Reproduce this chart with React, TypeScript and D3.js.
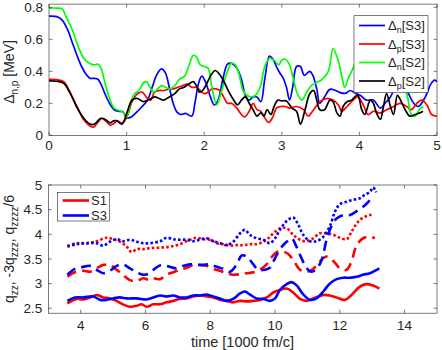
import React from 'react';
import * as d3 from 'd3';

// top panel: pairing gaps [MeV] vs time [1000 fm/c]
const dnS3 = [[0,0.745],[0.1,0.742],[0.17,0.72],[0.24,0.66],[0.3,0.58],[0.36,0.5],[0.42,0.43],[0.48,0.38],[0.53,0.356],[0.58,0.356],[0.63,0.35],[0.67,0.32],[0.72,0.26],[0.78,0.2],[0.84,0.16],[0.9,0.15],[0.95,0.148],[1.0,0.11],[1.05,0.112],[1.12,0.14],[1.2,0.18],[1.27,0.22],[1.33,0.3],[1.39,0.38],[1.45,0.415],[1.5,0.39],[1.55,0.3],[1.6,0.2],[1.65,0.145],[1.7,0.13],[1.76,0.137],[1.84,0.12],[1.88,0.2],[1.93,0.33],[1.97,0.37],[2.02,0.33],[2.08,0.24],[2.13,0.19],[2.18,0.22],[2.24,0.35],[2.3,0.445],[2.35,0.45],[2.42,0.42],[2.48,0.35],[2.53,0.25],[2.58,0.22],[2.63,0.24],[2.68,0.24],[2.73,0.21],[2.78,0.35],[2.84,0.495],[2.88,0.48],[2.94,0.42],[2.98,0.385],[3.02,0.355],[3.06,0.3],[3.1,0.22],[3.14,0.3],[3.19,0.43],[3.24,0.43],[3.29,0.375],[3.36,0.4],[3.4,0.375],[3.45,0.29],[3.49,0.2],[3.55,0.24],[3.62,0.287],[3.68,0.283],[3.75,0.267],[3.82,0.262],[3.88,0.28],[3.95,0.262],[4.01,0.25],[4.09,0.22],[4.18,0.22],[4.27,0.17],[4.33,0.2],[4.4,0.24],[4.47,0.3],[4.55,0.31],[4.62,0.27],[4.7,0.2],[4.76,0.18],[4.85,0.24],[4.92,0.32],[4.97,0.345],[5.0,0.335]];
const dpS3 = [[0,0.35],[0.1,0.348],[0.19,0.335],[0.27,0.27],[0.36,0.18],[0.45,0.095],[0.53,0.057],[0.58,0.052],[0.62,0.075],[0.68,0.105],[0.73,0.09],[0.79,0.063],[0.84,0.075],[0.88,0.09],[0.94,0.078],[1.0,0.11],[1.07,0.21],[1.14,0.26],[1.2,0.27],[1.27,0.23],[1.31,0.22],[1.36,0.27],[1.42,0.28],[1.48,0.28],[1.55,0.29],[1.6,0.29],[1.66,0.3],[1.72,0.31],[1.78,0.32],[1.84,0.3],[1.9,0.3],[1.95,0.28],[2.0,0.26],[2.05,0.27],[2.1,0.29],[2.15,0.29],[2.2,0.28],[2.25,0.24],[2.3,0.2],[2.35,0.2],[2.42,0.17],[2.48,0.13],[2.52,0.115],[2.58,0.15],[2.63,0.2],[2.68,0.16],[2.73,0.15],[2.78,0.11],[2.83,0.08],[2.88,0.11],[2.93,0.17],[2.98,0.18],[3.04,0.18],[3.1,0.17],[3.19,0.18],[3.28,0.16],[3.34,0.12],[3.41,0.16],[3.49,0.21],[3.58,0.23],[3.66,0.22],[3.73,0.19],[3.77,0.15],[3.84,0.18],[3.92,0.22],[3.98,0.24],[4.05,0.19],[4.11,0.13],[4.18,0.15],[4.27,0.14],[4.35,0.16],[4.44,0.18],[4.52,0.2],[4.61,0.18],[4.67,0.16],[4.74,0.2],[4.8,0.22],[4.87,0.19],[4.93,0.13],[5.0,0.12]];
const dnS2 = [[0,0.795],[0.1,0.795],[0.17,0.79],[0.22,0.74],[0.3,0.66],[0.38,0.55],[0.45,0.48],[0.52,0.45],[0.58,0.44],[0.63,0.445],[0.67,0.42],[0.72,0.33],[0.78,0.23],[0.84,0.17],[0.9,0.155],[0.95,0.145],[1.0,0.115],[1.05,0.2],[1.1,0.26],[1.16,0.28],[1.22,0.33],[1.26,0.335],[1.3,0.3],[1.35,0.27],[1.4,0.29],[1.45,0.31],[1.5,0.3],[1.56,0.29],[1.62,0.31],[1.68,0.35],[1.75,0.37],[1.8,0.43],[1.86,0.5],[1.9,0.49],[1.95,0.44],[2.0,0.43],[2.05,0.42],[2.1,0.3],[2.16,0.19],[2.22,0.27],[2.3,0.4],[2.35,0.45],[2.4,0.44],[2.45,0.38],[2.5,0.28],[2.55,0.25],[2.6,0.24],[2.66,0.25],[2.72,0.3],[2.78,0.43],[2.84,0.48],[2.9,0.47],[2.96,0.44],[3.0,0.47],[3.05,0.475],[3.1,0.44],[3.15,0.35],[3.2,0.26],[3.26,0.22],[3.32,0.27],[3.38,0.31],[3.45,0.33],[3.52,0.35],[3.6,0.4],[3.66,0.54],[3.72,0.48],[3.78,0.35],[3.81,0.3],[3.86,0.36],[3.92,0.42],[3.98,0.48],[4.05,0.45],[4.15,0.38],[4.25,0.42],[4.35,0.36],[4.45,0.4],[4.55,0.34],[4.62,0.24],[4.67,0.13],[4.72,0.12],[4.77,0.16],[4.82,0.18]];
const dpS2 = [[0,0.34],[0.1,0.338],[0.19,0.325],[0.27,0.265],[0.36,0.175],[0.45,0.105],[0.53,0.07],[0.58,0.068],[0.62,0.085],[0.66,0.105],[0.7,0.105],[0.75,0.09],[0.79,0.078],[0.83,0.09],[0.87,0.092],[0.94,0.07],[1.0,0.135],[1.07,0.22],[1.14,0.23],[1.22,0.21],[1.3,0.225],[1.36,0.24],[1.42,0.23],[1.48,0.22],[1.55,0.24],[1.62,0.26],[1.68,0.29],[1.74,0.3],[1.8,0.32],[1.86,0.335],[1.9,0.31],[1.94,0.27],[1.98,0.28],[2.03,0.32],[2.08,0.37],[2.14,0.405],[2.2,0.38],[2.26,0.33],[2.32,0.27],[2.38,0.22],[2.43,0.19],[2.48,0.22],[2.53,0.24],[2.58,0.2],[2.63,0.16],[2.68,0.12],[2.73,0.14],[2.77,0.12],[2.81,0.16],[2.86,0.13],[2.9,0.18],[2.95,0.22],[3.0,0.215],[3.06,0.215],[3.13,0.17],[3.19,0.15],[3.24,0.07],[3.3,0.16],[3.36,0.26],[3.41,0.28],[3.45,0.22],[3.49,0.16],[3.55,0.16],[3.62,0.22],[3.66,0.21],[3.71,0.14],[3.75,0.12],[3.79,0.18],[3.84,0.21],[3.9,0.22],[3.94,0.24],[3.98,0.25],[4.03,0.16],[4.07,0.13],[4.14,0.22],[4.18,0.2],[4.22,0.14],[4.27,0.1],[4.31,0.18],[4.35,0.26],[4.4,0.18],[4.44,0.13],[4.49,0.25],[4.53,0.22],[4.59,0.16],[4.65,0.12],[4.72,0.13],[4.78,0.14],[4.82,0.15]];

// bottom panel: multipole moments vs time [1000 fm/c]
const q2S1 = [[3.59,2.6],[3.88,2.69],[4.08,2.68],[4.29,2.72],[4.49,2.77],[4.7,2.72],[4.9,2.7],[5.11,2.65],[5.3,2.58],[5.52,2.53],[5.73,2.55],[5.88,2.58],[6.04,2.53],[6.24,2.58],[6.45,2.58],[6.65,2.62],[6.86,2.65],[7.06,2.69],[7.27,2.7],[7.48,2.74],[7.68,2.76],[7.89,2.74],[8.09,2.72],[8.3,2.67],[8.5,2.65],[8.71,2.62],[8.92,2.65],[9.12,2.64],[9.33,2.65],[9.53,2.67],[9.74,2.72],[9.95,2.82],[10.15,2.87],[10.36,2.9],[10.56,2.82],[10.77,2.69],[10.97,2.65],[11.18,2.7],[11.49,2.77],[11.69,2.76],[11.9,2.72],[12.16,2.67],[12.36,2.77],[12.62,2.94],[12.82,2.99],[13.03,2.96],[13.22,2.9]];
const q2S3 = [[3.59,2.65],[3.82,2.72],[4.08,2.72],[4.39,2.74],[4.6,2.67],[4.8,2.67],[5.0,2.7],[5.21,2.72],[5.42,2.7],[5.73,2.7],[6.04,2.68],[6.24,2.72],[6.45,2.76],[6.65,2.74],[6.86,2.76],[7.06,2.72],[7.27,2.72],[7.48,2.76],[7.68,2.76],[7.89,2.78],[8.09,2.74],[8.3,2.7],[8.5,2.65],[8.71,2.69],[8.92,2.8],[9.07,2.84],[9.22,2.78],[9.43,2.7],[9.64,2.69],[9.84,2.65],[10.0,2.7],[10.15,2.87],[10.36,2.99],[10.51,3.03],[10.66,2.97],[10.87,2.78],[11.08,2.67],[11.28,2.7],[11.49,2.84],[11.69,3.0],[11.9,3.09],[12.1,3.12],[12.31,3.12],[12.52,3.14],[12.72,3.18],[12.93,3.21],[13.08,3.26],[13.22,3.31]];
const q3S1 = [[3.59,3.14],[3.82,3.23],[4.08,3.26],[4.29,3.24],[4.49,3.31],[4.7,3.38],[4.9,3.38],[5.11,3.28],[5.3,3.18],[5.52,3.07],[5.73,3.05],[5.93,3.11],[6.1,3.08],[6.24,3.11],[6.45,3.09],[6.65,3.18],[6.86,3.23],[7.06,3.28],[7.27,3.32],[7.48,3.38],[7.68,3.38],[7.89,3.36],[8.09,3.3],[8.3,3.26],[8.5,3.21],[8.71,3.18],[8.92,3.19],[9.12,3.21],[9.33,3.23],[9.53,3.28],[9.74,3.39],[9.89,3.53],[10.05,3.64],[10.25,3.65],[10.41,3.6],[10.56,3.48],[10.77,3.28],[10.97,3.24],[11.18,3.3],[11.38,3.45],[11.59,3.55],[11.8,3.46],[12.0,3.31],[12.21,3.28],[12.36,3.45],[12.52,3.78],[12.72,3.92],[12.93,3.95],[13.08,3.92]];
const q3S3 = [[3.59,3.18],[3.82,3.3],[4.08,3.34],[4.29,3.36],[4.49,3.28],[4.7,3.21],[4.9,3.26],[5.11,3.36],[5.3,3.39],[5.52,3.31],[5.73,3.23],[5.93,3.18],[6.1,3.2],[6.3,3.31],[6.5,3.38],[6.75,3.34],[6.96,3.31],[7.17,3.36],[7.37,3.39],[7.58,3.38],[7.78,3.38],[7.99,3.39],[8.2,3.34],[8.4,3.3],[8.61,3.24],[8.81,3.38],[8.97,3.57],[9.12,3.55],[9.33,3.39],[9.48,3.28],[9.69,3.28],[9.84,3.32],[9.95,3.45],[10.1,3.64],[10.25,3.78],[10.36,3.85],[10.51,3.92],[10.66,3.75],[10.82,3.51],[10.97,3.32],[11.13,3.24],[11.28,3.3],[11.44,3.48],[11.59,3.89],[11.74,4.16],[11.9,4.32],[12.1,4.39],[12.31,4.39],[12.52,4.47],[12.72,4.56],[12.88,4.66],[12.98,4.74]];
const q4S1 = [[3.59,3.77],[3.88,3.82],[4.18,3.82],[4.49,3.86],[4.8,3.93],[5.0,3.9],[5.21,3.85],[5.42,3.75],[5.57,3.64],[5.73,3.7],[5.93,3.7],[6.14,3.72],[6.45,3.73],[6.76,3.75],[7.06,3.8],[7.37,3.89],[7.58,3.93],[7.78,3.9],[7.99,3.89],[8.2,3.82],[8.4,3.8],[8.61,3.77],[8.81,3.78],[9.02,3.78],[9.22,3.8],[9.43,3.8],[9.64,3.85],[9.79,3.92],[9.95,4.02],[10.15,4.12],[10.36,4.12],[10.56,3.99],[10.77,3.89],[10.97,3.86],[11.18,3.92],[11.38,4.02],[11.59,4.02],[11.8,3.99],[12.0,3.93],[12.21,3.9],[12.36,4.05],[12.52,4.22],[12.72,4.34],[12.93,4.39],[13.05,4.41]];
const q4S3 = [[3.59,3.75],[3.88,3.8],[4.18,3.82],[4.49,3.82],[4.7,3.77],[4.9,3.85],[5.11,3.9],[5.3,3.86],[5.52,3.89],[5.73,3.85],[5.93,3.82],[6.14,3.82],[6.45,3.86],[6.65,3.93],[6.86,3.9],[7.06,3.89],[7.27,3.89],[7.48,3.86],[7.68,3.89],[7.89,3.92],[8.09,3.86],[8.3,3.82],[8.5,3.78],[8.71,3.85],[8.92,4.02],[9.07,4.09],[9.22,3.99],[9.43,3.92],[9.64,3.89],[9.84,3.82],[10.0,3.92],[10.15,4.09],[10.36,4.27],[10.56,4.34],[10.72,4.19],[10.87,3.99],[11.08,3.86],[11.28,3.86],[11.49,3.95],[11.69,4.16],[11.85,4.46],[12.0,4.61],[12.21,4.66],[12.41,4.7],[12.62,4.73],[12.77,4.8],[12.93,4.86],[13.03,4.95],[13.12,4.85]];

const topXTicks = [0, 1, 2, 3, 4, 5];
const topYTicks = [0, 0.2, 0.4, 0.6, 0.8];
const botXTicks = [4, 6, 8, 10, 12, 14];
const botYTicks = [2.5, 3, 3.5, 4, 4.5, 5];

const FONT = '"Liberation Sans", Arial, Helvetica, sans-serif';
const AX = '#262626';
const TICK = 3.5;

const Frame = ({ x, y, xTicks, yTicks }) => {
  const [x0, x1] = x.range();
  const [y0, y1] = y.range();
  return (
    <g stroke={AX} strokeWidth={0.6} fill="none">
      <rect x={x0} y={y1} width={x1 - x0} height={y0 - y1} />
      {xTicks.map(t => (
        <g key={'x' + t}>
          <line x1={x(t)} x2={x(t)} y1={y0} y2={y0 - TICK} />
          <line x1={x(t)} x2={x(t)} y1={y1} y2={y1 + TICK} />
        </g>
      ))}
      {yTicks.map(t => (
        <g key={'y' + t}>
          <line x1={x0} x2={x0 + TICK} y1={y(t)} y2={y(t)} />
          <line x1={x1} x2={x1 - TICK} y1={y(t)} y2={y(t)} />
        </g>
      ))}
    </g>
  );
};

const TickLabels = ({ x, y, xTicks, yTicks, xBase }) => {
  const [x0] = x.range();
  return (
    <g fill={AX} fontSize={13.5} fontFamily={FONT}>
      {xTicks.map(t => (
        <text key={'x' + t} x={x(t)} y={xBase} textAnchor="middle">{String(t)}</text>
      ))}
      {yTicks.map(t => (
        <text key={'y' + t} x={x0 - 6} y={y(t) + 4.8} textAnchor="end">{String(t)}</text>
      ))}
    </g>
  );
};

export default function App() {
  // top axes
  const xT = d3.scaleLinear().domain([0, 5]).range([49, 437]);
  const yT = d3.scaleLinear().domain([0, 0.82]).range([135.3, 4.1]);
  // bottom axes
  const xB = d3.scaleLinear().domain([3, 15]).range([48.3, 437]);
  const yB = d3.scaleLinear().domain([2.4, 5]).range([313.2, 185]);

  const lineT = d3.line().x(d => xT(d[0])).y(d => yT(d[1])).curve(d3.curveCatmullRom.alpha(0.5));
  const lineB = d3.line().x(d => xB(d[0])).y(d => yB(d[1])).curve(d3.curveCatmullRom.alpha(0.5));

  const topSeries = [
    { data: dnS3, color: '#0000ff', sub: 'n', tag: '[S3]' },
    { data: dpS3, color: '#ff0000', sub: 'p', tag: '[S3]' },
    { data: dnS2, color: '#00ff00', sub: 'n', tag: '[S2]' },
    { data: dpS2, color: '#000000', sub: 'p', tag: '[S2]' },
  ];
  const dash = { solid: null, dashed: '10,6', dotted: '2.6,2.2' };
  const botSeries = [
    { data: q2S1, color: '#ff0000', style: 'solid' },
    { data: q3S1, color: '#ff0000', style: 'dashed' },
    { data: q4S1, color: '#ff0000', style: 'dotted' },
    { data: q2S3, color: '#0000ff', style: 'solid' },
    { data: q3S3, color: '#0000ff', style: 'dashed' },
    { data: q4S3, color: '#0000ff', style: 'dotted' },
  ];

  return (
    <>
      <style>{'body{margin:0}'}</style>
      <svg width={442} height={350} style={{ display: 'block', background: '#fff' }}>
        {/* top panel */}
        <g fill="none" strokeWidth={1.7}>
          {topSeries.map((s, i) => (
            <path key={i} d={lineT(s.data)} stroke={s.color} />
          ))}
        </g>
        <Frame x={xT} y={yT} xTicks={topXTicks} yTicks={topYTicks} />
        <TickLabels x={xT} y={yT} xTicks={topXTicks} yTicks={topYTicks} xBase={150} />
        <text transform="translate(14,72) rotate(-90)" textAnchor="middle" fill={AX} fontSize={14} fontFamily={FONT}>
          Δ<tspan dy={3.5} fontSize={10}>n,p</tspan><tspan dy={-3.5}> [MeV]</tspan>
        </text>
        <g>
          <rect x={354} y={15.7} width={74} height={77} fill="#fff" stroke={AX} strokeWidth={0.6} />
          {topSeries.map((s, i) => {
            const ly = 25.5 + i * 18.5;
            return (
              <g key={i}>
                <line x1={359} x2={385} y1={ly} y2={ly} stroke={s.color} strokeWidth={1.7} />
                <text x={388} y={ly + 4.5} fill={AX} fontSize={13} fontFamily={FONT}>
                  Δ<tspan dy={3} fontSize={9}>{s.sub}</tspan><tspan dy={-3}>{s.tag}</tspan>
                </text>
              </g>
            );
          })}
        </g>

        {/* bottom panel */}
        <g fill="none" strokeWidth={2.6}>
          {botSeries.map((s, i) => (
            <path key={i} d={lineB(s.data)} stroke={s.color} strokeDasharray={dash[s.style] || undefined} />
          ))}
        </g>
        <Frame x={xB} y={yB} xTicks={botXTicks} yTicks={botYTicks} />
        <TickLabels x={xB} y={yB} xTicks={botXTicks} yTicks={botYTicks} xBase={329.5} />
        <text x={242.5} y={346.5} textAnchor="middle" fill={AX} fontSize={14.5} fontFamily={FONT}>time [1000 fm/c]</text>
        <text transform="translate(14,249) rotate(-90)" textAnchor="middle" fill={AX} fontSize={14} fontFamily={FONT}>
          q<tspan dy={3.5} fontSize={10}>zz</tspan><tspan dy={-3.5}>, -3q</tspan><tspan dy={3.5} fontSize={10}>zzz</tspan><tspan dy={-3.5}>, q</tspan><tspan dy={3.5} fontSize={10}>zzzz</tspan><tspan dy={-3.5}>/6</tspan>
        </text>
        <g>
          <rect x={57.3} y={192.5} width={52} height={28.5} fill="#fff" stroke={AX} strokeWidth={0.6} />
          {[{ c: '#ff0000', t: 'S1' }, { c: '#0000ff', t: 'S3' }].map((e, i) => {
            const ly = 200.5 + i * 15;
            return (
              <g key={i}>
                <line x1={62.7} x2={89} y1={ly} y2={ly} stroke={e.c} strokeWidth={2.6} />
                <text x={91} y={ly + 4.5} fill={AX} fontSize={13} fontFamily={FONT}>{e.t}</text>
              </g>
            );
          })}
        </g>
      </svg>
    </>
  );
}
